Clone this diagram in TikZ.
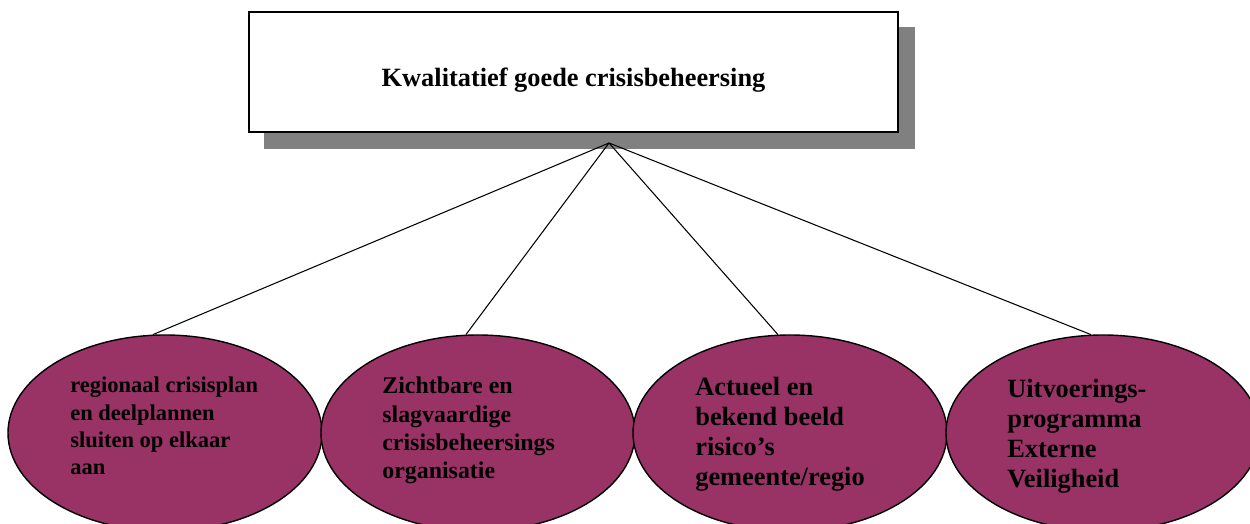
\documentclass[tikz,border=0pt]{standalone}
\usepackage{fontspec}
\setmainfont{Liberation Serif}
\usetikzlibrary{shapes.geometric}
\pgfdeclarelayer{bg}
\pgfsetlayers{bg,main}
\definecolor{plum}{RGB}{153,51,102}
\definecolor{shadowgray}{RGB}{128,128,128}
\tikzset{
        topbox/.style={draw, thick, fill=white, minimum width=12.98cm, minimum height=2.40cm, inner sep=0pt,
                text height=0.9cm, text depth=0.3cm, font=\fontsize{15}{18}\selectfont\bfseries},
        goal/.style={ellipse, draw, thick, fill=plum, minimum width=6.28cm, minimum height=3.92cm, inner sep=0pt},
        goaltext/.style={anchor=north west, align=left, inner sep=0pt},
}

\begin{document}
\begin{tikzpicture}
        \clip (0cm, 0cm) rectangle (25cm, 10.48cm);
        \node (top) [topbox] at (11.47cm, 9.04cm) {Kwalitatief goede crisisbeheersing};
        \coordinate (apex) at (12.18cm, 7.62cm);
        \node (g1) [goal] at (3.30cm, 1.82cm) {};
        \node (g2) [goal] at (9.56cm, 1.82cm) {};
        \node (g3) [goal] at (15.80cm, 1.82cm) {};
        \node (g4) [goal] at (22.06cm, 1.82cm) {};
        \node (t1) [goaltext, font=\fontsize{12.8}{15.4}\selectfont\bfseries] at (1.40cm, 2.94cm) {
regionaal crisisplan\\en deelplannen\\sluiten op elkaar\\aan};
        \node (t2) [goaltext, font=\fontsize{13.6}{16}\selectfont\bfseries] at (7.64cm, 2.94cm) {
Zichtbare en\\slagvaardige\\crisisbeheersings\\organisatie};
        \node (t3) [goaltext, font=\fontsize{15}{17}\selectfont\bfseries] at (13.90cm, 2.94cm) {
Actueel en\\bekend beeld\\risico’s\\gemeente/regio};
        \node (t4) [goaltext, font=\fontsize{15}{17}\selectfont\bfseries] at (20.14cm, 2.90cm) {
Uitvoerings-\\programma\\Externe\\Veiligheid};
        \begin{pgfonlayer}{bg}
                \fill [shadowgray] ([shift={(0.32cm,-0.32cm)}]top.south west) rectangle ([shift={(0.32cm,-0.32cm)}]top.north east);
                \draw (apex) edge [semithick] (g1.97);
                \draw (apex) edge [semithick] (g2.97);
                \draw (apex) edge [semithick] (g3.97);
                \draw (apex) edge [semithick] (g4.97);
        \end{pgfonlayer}
\end{tikzpicture}
\end{document}
